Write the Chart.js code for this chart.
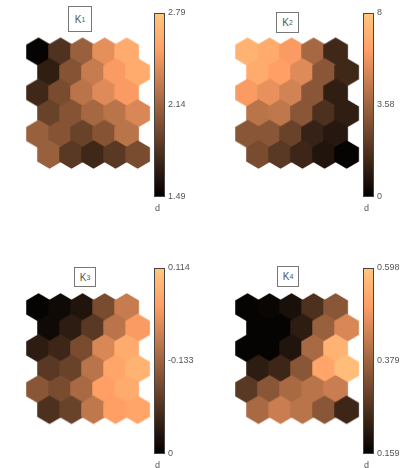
<!DOCTYPE html>
<html>
<head>
<meta charset="utf-8">
<script src="https://cdn.jsdelivr.net/npm/chart.js@4.4.1/dist/chart.umd.min.js"></script>
<style>
  body { margin: 0; background: #fff; width: 401px; height: 468px; position: relative; overflow: hidden; font-family: "Liberation Sans", sans-serif; }
  canvas { position: absolute; }
  .ttl { position: absolute; border: 1px solid #777; box-sizing: border-box; color: #555; font-size: 10px;
         display: flex; align-items: center; justify-content: center; background: #fff; }
  .ttl sub { font-size: 7px; vertical-align: -3px; }
</style>
</head>
<body>
<canvas id="c1" width="205" height="220" style="left:0;top:0"></canvas>
<canvas id="c2" width="192" height="220" style="left:209px;top:0"></canvas>
<canvas id="c3" width="205" height="213" style="left:0;top:255px"></canvas>
<canvas id="c4" width="192" height="213" style="left:209px;top:255px"></canvas>
<div class="ttl" style="left:68px;top:6px;width:24px;height:26px">K<sub>1</sub></div>
<div class="ttl" style="left:276px;top:12px;width:23px;height:21px">K<sub>2</sub></div>
<div class="ttl" style="left:74px;top:267px;width:22px;height:20px">K<sub>3</sub></div>
<div class="ttl" style="left:277px;top:266px;width:22px;height:21px">K<sub>4</sub></div>
<script>
// colour level of each map unit (0 = darkest, 1 = lightest), rows top to bottom
const k1Levels = [
    [0.02, 0.25, 0.48, 0.72, 0.86],
    [0.15, 0.42, 0.62, 0.78, 0.86],
    [0.20, 0.38, 0.58, 0.70, 0.78],
    [0.33, 0.42, 0.52, 0.58, 0.68],
    [0.48, 0.42, 0.33, 0.42, 0.58],
    [0.48, 0.28, 0.20, 0.28, 0.38]
];
const k2Levels = [
    [0.90, 0.86, 0.78, 0.52, 0.20],
    [0.86, 0.80, 0.70, 0.43, 0.20],
    [0.78, 0.73, 0.66, 0.43, 0.15],
    [0.58, 0.60, 0.43, 0.24, 0.15],
    [0.43, 0.43, 0.33, 0.17, 0.12],
    [0.38, 0.28, 0.19, 0.10, 0.02]
];
const k3Levels = [
    [0.02, 0.05, 0.10, 0.38, 0.62],
    [0.05, 0.14, 0.28, 0.58, 0.78],
    [0.14, 0.19, 0.38, 0.68, 0.86],
    [0.28, 0.33, 0.58, 0.83, 0.90],
    [0.43, 0.38, 0.53, 0.80, 0.86],
    [0.24, 0.33, 0.60, 0.80, 0.83]
];
const k4Levels = [
    [0.02, 0.03, 0.08, 0.24, 0.43],
    [0.02, 0.02, 0.14, 0.48, 0.68],
    [0.02, 0.02, 0.10, 0.53, 0.90],
    [0.14, 0.19, 0.43, 0.83, 0.95],
    [0.28, 0.43, 0.53, 0.58, 0.63],
    [0.53, 0.63, 0.58, 0.43, 0.19]
];
// colorbar labels: bottom, middle, top
const k1Ticks = ['1.49', '2.14', '2.79'];
const k2Ticks = ['0', '3.58', '8'];
const k3Ticks = ['0', '-0.133', '0.114'];
const k4Ticks = ['0.159', '0.379', '0.598'];

const HEX_W = 23.9;      // px between neighbouring unit centres
const HEX_X0 = 27.7;     // px, first unit centre in each canvas
const BAR_RIGHT = 165;   // px, right edge of the colorbar in each canvas

function copper(t) {
    const r = Math.min(1, 1.25 * t), g = 0.7812 * t, b = 0.4975 * t;
    return `rgb(${Math.round(r * 255)},${Math.round(g * 255)},${Math.round(b * 255)})`;
}

const hexCache = {};
function hexImage(color, w) {
    const key = color + w;
    if (hexCache[key]) return hexCache[key];
    const h = w * 2 / Math.sqrt(3);
    const c = document.createElement('canvas');
    c.width = Math.ceil(w) + 3;
    c.height = Math.ceil(h) + 3;
    const g = c.getContext('2d');
    const cx = c.width / 2, cy = c.height / 2, R = h / 2 + 0.45;
    g.beginPath();
    for (let i = 0; i < 6; i++) {
        const a = Math.PI / 180 * (60 * i - 90);
        g.lineTo(cx + R * Math.cos(a), cy + R * Math.sin(a));
    }
    g.closePath();
    g.fillStyle = color;
    g.fill();
    hexCache[key] = c;
    return c;
}

const colorbar = {
    id: 'colorbar',
    beforeDatasetsDraw(chart) {
        const {ctx, chartArea, scales} = chart;
        const cb = scales.cb;
        const top = cb.getPixelForValue(1), bot = cb.getPixelForValue(0);
        const x1 = chartArea.right - 11;
        const grad = ctx.createLinearGradient(0, bot, 0, top);
        for (let i = 0; i <= 10; i++) {
            grad.addColorStop(i / 10, copper(i / 10));
        }
        ctx.save();
        ctx.fillStyle = grad;
        ctx.fillRect(x1, top, 11, bot - top);
        ctx.strokeStyle = '#444';
        ctx.lineWidth = 1;
        ctx.strokeRect(x1 + 0.5, top + 0.5, 10, bot - top - 1);
        ctx.fillStyle = '#555';
        ctx.font = '9px "Liberation Sans"';
        ctx.textAlign = 'left';
        ctx.textBaseline = 'alphabetic';
        ctx.fillText('d', x1 + 1, bot + 14);
        ctx.restore();
    }
};

function drawMap(id, levels, tickLabels, padTop, barBottom, hexY0) {
    const canvas = document.getElementById(id);
    const padBottom = canvas.height - barBottom;
    const plotW = BAR_RIGHT;
    const plotH = barBottom - padTop;

    const points = [];
    for (let r = 0; r < levels.length; r++) {
        for (let c = 0; c < levels[r].length; c++) {
            points.push({x: c + (r % 2) * 0.5, y: r * Math.sqrt(3) / 2, v: levels[r][c]});
        }
    }
    const xMin = -HEX_X0 / HEX_W;
    const yMin = -(hexY0 - padTop) / HEX_W;

    new Chart(canvas, {
        type: 'scatter',
        data: {
            datasets: [{
                data: points,
                pointStyle: (ctx) => hexImage(copper(ctx.raw ? ctx.raw.v : 0), HEX_W),
                pointRadius: 12,
                pointHoverRadius: 12,
            }]
        },
        options: {
            responsive: false,
            animation: false,
            events: [],
            layout: {padding: {top: padTop, bottom: padBottom, left: 0, right: 0}},
            plugins: {legend: {display: false}, tooltip: {enabled: false}},
            scales: {
                x: {type: 'linear', display: false, min: xMin, max: xMin + plotW / HEX_W},
                y: {type: 'linear', display: false, reverse: true, min: yMin, max: yMin + plotH / HEX_W},
                cb: {
                    type: 'linear',
                    position: 'right',
                    min: 0,
                    max: 1,
                    grid: {display: false, drawTicks: false},
                    border: {display: false},
                    afterBuildTicks: (scale) => {
                        scale.ticks = [{value: 0}, {value: 0.5}, {value: 1}];
                    },
                    afterFit: (scale) => {
                        scale.width = canvas.width - BAR_RIGHT;
                    },
                    ticks: {
                        padding: 3,
                        color: '#555',
                        font: {family: 'Liberation Sans', size: 9},
                        callback: (v) => tickLabels[Math.round(v * 2)],
                    },
                },
            },
        },
        plugins: [colorbar],
    });
}

drawMap('c1', k1Levels, k1Ticks, 11.7, 197, 50.7);
drawMap('c2', k2Levels, k2Ticks, 11.7, 197, 50.7);
drawMap('c3', k3Levels, k3Ticks, 11, 199, 50.8);
drawMap('c4', k4Levels, k4Ticks, 11, 199, 50.8);
</script>
</body>
</html>
